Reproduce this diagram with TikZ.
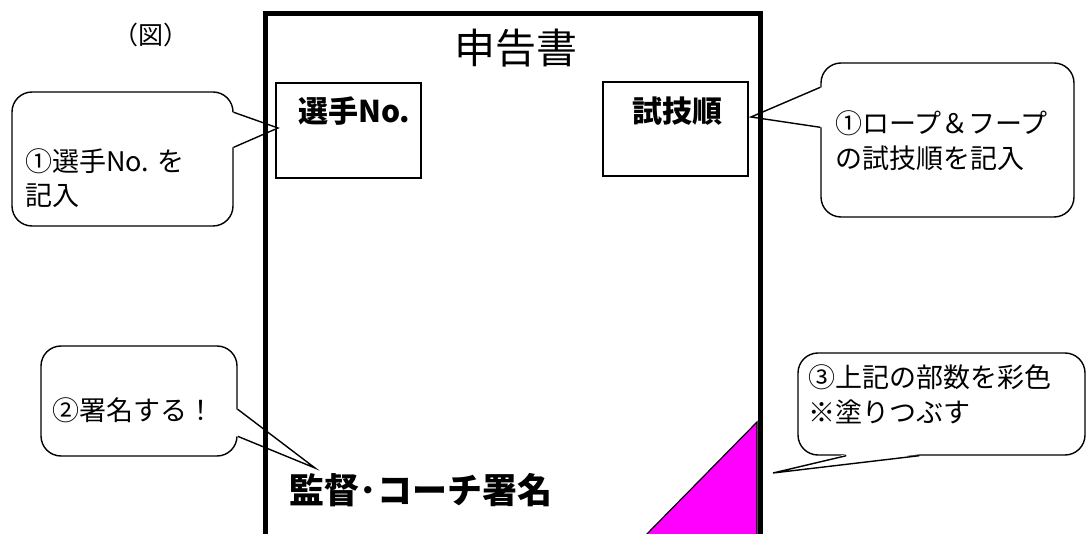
\documentclass[tikz,border=0pt]{standalone}
\usepackage{fontspec}
\setmainfont{Noto Sans CJK JP}
\usetikzlibrary{calc}
\definecolor{fillmag}{RGB}{255,0,255}
\begin{document}
\begin{tikzpicture}[x=1pt,y=-1pt,
  callout/.style={draw,line width=1.4pt,rounded corners=20pt,fill=white,inner sep=0pt},
  ptrline/.style={draw,line width=1.4pt,line join=miter},
  entrybox/.style={draw,line width=1.4pt,inner sep=0pt},
  note/.style={font=\fontsize{27}{34.5}\selectfont,align=left,inner sep=0pt,anchor=west},
  heavy/.style={font=\fontsize{30}{30}\selectfont\bfseries,inner sep=0pt},
  frameline/.style={line width=5pt,line join=miter}]
\useasboundingbox (0,0) rectangle (1087,534);

% colored corner
\draw[fill=fillmag,line width=1.2pt] (641,540) -- (757,422) -- (757,540) -- cycle;

% title texts
\node[font=\fontsize{25}{25}\selectfont,inner sep=0pt] (fig) at (151,35) {（図）};
\node[font=\fontsize{41}{41}\selectfont,inner sep=0pt] (title) at (516,48) {申告書};

% entry boxes
\node[entrybox,minimum width=145pt,minimum height=95pt] (b1) at (348.5,130.5) {};
\node[heavy,anchor=west] (l1) at (298,111) {選手No.};
\node[entrybox,minimum width=145pt,minimum height=94pt] (b2) at (675.5,129) {};
\node[heavy] (l2) at (677,111) {試技順};

\node[font=\fontsize{35}{35}\selectfont\bfseries,inner sep=0pt] (sign) at (421,490) {監督･コーチ署名};

% callout 1
\node[callout,minimum width=221pt,minimum height=134pt] (c1) at (122.5,159) {};
\coordinate (t1) at (278,128);
\fill[white] ($(c1.north east)+(-1.5,21)$) -- (t1) -- ($(c1.north east)+(-1.5,56)$) -- cycle;
\draw[ptrline] ($(c1.north east)+(0,21)$) -- (t1) -- ($(c1.north east)+(0,56)$);
\node[note] (n1) at (25,178) {①選手No. を\\記入};

% callout 2
\node[callout,minimum width=253pt,minimum height=154pt] (c2) at (947.5,140) {};
\coordinate (t2) at (751,117);
\fill[white] ($(c2.north west)+(1.5,25)$) -- (t2) -- ($(c2.north west)+(1.5,65)$) -- cycle;
\draw[ptrline] ($(c2.north west)+(0,25)$) -- (t2) -- ($(c2.north west)+(0,65)$);
\node[note] (n2) at (835,140.5) {①ロープ＆フープ\\の試技順を記入};

% callout 3
\node[callout,minimum width=196pt,minimum height=110pt] (c3) at (139,401) {};
\coordinate (t3) at (315,468);
\fill[white] ($(c3.north east)+(-1.5,64)$) -- (t3) -- ($(c3.north east)+(-1.5,91)$) -- cycle;
\draw[ptrline] ($(c3.north east)+(0,64)$) -- (t3) -- ($(c3.north east)+(0,91)$);
\node[note] (n3) at (52,410) {②署名する！};

% callout 4
\node[callout,minimum width=287pt,minimum height=102pt] (c4) at (941.5,404) {};
\coordinate (t4) at (773,473);
\fill[white] ($(c4.south west)+(49,-1.5)$) -- (t4) -- ($(c4.south west)+(122,-1.5)$) -- cycle;
\draw[ptrline] ($(c4.south west)+(49,0)$) -- (t4) -- ($(c4.south west)+(122,0)$);
\node[note] (n4) at (808,394.5) {③上記の部数を彩色\\※塗りつぶす};

% form frame
\draw[frameline] (265.5,545) -- (265.5,14) -- (760.5,14) -- (760.5,545);
\end{tikzpicture}
\end{document}
